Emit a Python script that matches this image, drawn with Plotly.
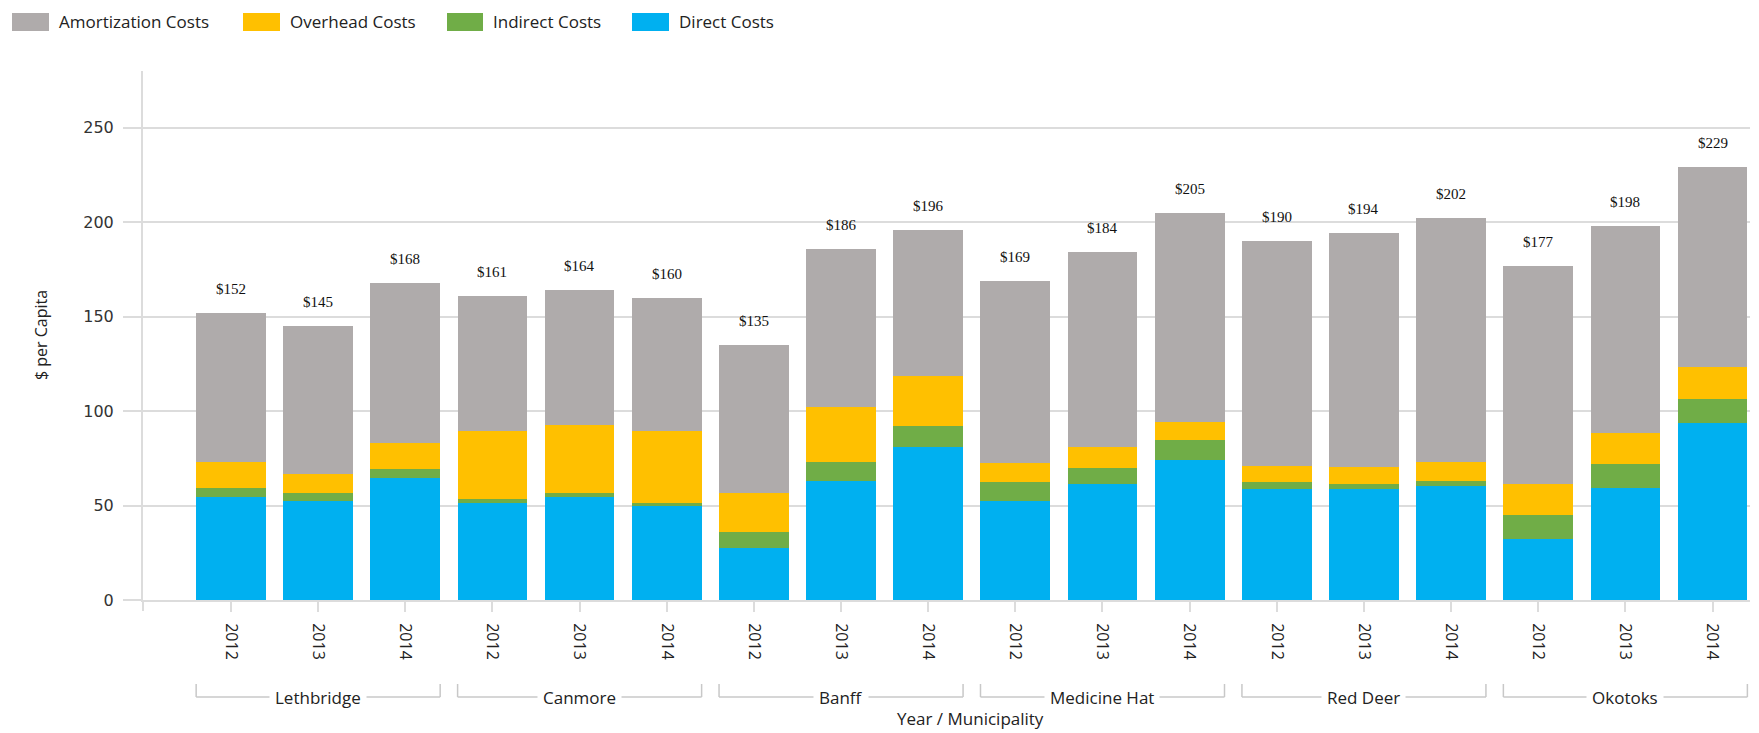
import plotly.graph_objects as go

# Per-capita cost breakdown by municipality and year
municipalities = ["Lethbridge", "Canmore", "Banff", "Medicine Hat", "Red Deer", "Okotoks"]
years = ["2012", "2013", "2014"]

direct_costs = [54.7, 52.6, 64.4, 51.5, 54.7, 49.7, 27.3, 63.1, 80.8,
                52.6, 61.4, 74.1, 58.6, 58.6, 60.5, 32.3, 59.4, 93.5]
indirect_costs = [4.7, 3.8, 4.7, 2.1, 1.7, 1.8, 8.9, 9.7, 11.4,
                  9.7, 8.6, 10.6, 3.7, 2.8, 2.6, 12.5, 12.6, 12.7]
overhead_costs = [13.8, 10.1, 13.8, 36.0, 36.2, 38.1, 20.2, 29.5, 26.5,
                  10.0, 10.8, 9.7, 8.8, 8.8, 9.9, 16.6, 16.5, 17.3]
amortization_costs = [78.8, 78.5, 85.1, 71.4, 71.4, 70.4, 78.6, 83.7, 77.3,
                      96.7, 103.2, 110.6, 118.9, 123.8, 129.0, 115.6, 109.5, 105.5]
totals = [152, 145, 168, 161, 164, 160, 135, 186, 196,
          169, 184, 205, 190, 194, 202, 177, 198, 229]

colors = {
    "Amortization Costs": "#AFABAB",
    "Overhead Costs": "#FFC000",
    "Indirect Costs": "#70AD47",
    "Direct Costs": "#00B0F0",
}

W, H = 1759, 733
M_L, M_R, M_T, M_B = 143, 9, 71, 133
PW, PH = W - M_L - M_R, H - M_T - M_B
X_RANGE = [-1.01, 17.43]
Y_RANGE = [0, 280]
GRID = "#DCDCDC"
TEXT_FONT = "Open Sans"


def px_to_paper_x(px):
    return (px - M_L) / PW


def px_to_paper_y(py):
    return (H - M_B - py) / PH


def data_to_paper_x(v):
    return (v - X_RANGE[0]) / (X_RANGE[1] - X_RANGE[0])


x = list(range(len(totals)))
year_labels = years * len(municipalities)

fig = go.Figure()
series = [
    ("Direct Costs", direct_costs),
    ("Indirect Costs", indirect_costs),
    ("Overhead Costs", overhead_costs),
    ("Amortization Costs", amortization_costs),
]
for name, vals in series:
    fig.add_trace(go.Bar(
        x=x, y=vals, name=name,
        marker=dict(color=colors[name], line=dict(width=0)),
        showlegend=False,
    ))

annotations = []
shapes = []

# Total value labels above each stack
for xi, t in zip(x, totals):
    annotations.append(dict(
        x=xi, y=t, xref="x", yref="y", text=f"${t}", showarrow=False,
        yanchor="middle", yshift=24,
        font=dict(family="Liberation Serif", size=15, color="#111111"),
    ))

# Municipality group brackets under the year labels
bracket_y = px_to_paper_y(697)
bracket_top = px_to_paper_y(684)
for g, name in enumerate(municipalities):
    x0 = data_to_paper_x(3 * g - 0.4)
    x1 = data_to_paper_x(3 * g + 2 + 0.4)
    line = dict(color="#C8C8C8", width=1.5)
    shapes.append(dict(type="line", xref="paper", yref="paper",
                       x0=x0, x1=x1, y0=bracket_y, y1=bracket_y, line=line))
    shapes.append(dict(type="line", xref="paper", yref="paper",
                       x0=x0, x1=x0, y0=bracket_y, y1=bracket_top, line=line))
    shapes.append(dict(type="line", xref="paper", yref="paper",
                       x0=x1, x1=x1, y0=bracket_y, y1=bracket_top, line=line))
    annotations.append(dict(
        x=3 * g + 1, y=bracket_y, xref="x", yref="paper", text=name,
        showarrow=False, yanchor="middle", bgcolor="white", borderpad=5,
        font=dict(family=TEXT_FONT, size=17, color="#222222"),
    ))

# Y axis line extension below the baseline
shapes.append(dict(type="line", xref="paper", yref="paper",
                   x0=0, x1=0, y0=0, y1=px_to_paper_y(611),
                   line=dict(color=GRID, width=2)))

# Axis titles
annotations.append(dict(
    x=px_to_paper_x(970), y=px_to_paper_y(718), xref="paper", yref="paper",
    text="Year / Municipality", showarrow=False, yanchor="middle",
    font=dict(family=TEXT_FONT, size=17, color="#222222"),
))
annotations.append(dict(
    x=px_to_paper_x(41), y=px_to_paper_y(335), xref="paper", yref="paper",
    text="$ per Capita", showarrow=False, textangle=-90,
    xanchor="center", yanchor="middle",
    font=dict(family=TEXT_FONT, size=16, color="#222222"),
))

# Legend drawn as swatches with labels along the top
legend_items = [
    ("Amortization Costs", 12, 49),
    ("Overhead Costs", 243, 280),
    ("Indirect Costs", 447, 483),
    ("Direct Costs", 632, 669),
]
for name, sx0, sx1 in legend_items:
    shapes.append(dict(type="rect", xref="paper", yref="paper",
                       x0=px_to_paper_x(sx0), x1=px_to_paper_x(sx1),
                       y0=px_to_paper_y(31), y1=px_to_paper_y(13),
                       fillcolor=colors[name], line=dict(width=0)))
    annotations.append(dict(
        x=px_to_paper_x(sx1 + 8), y=px_to_paper_y(21.5), xref="paper", yref="paper",
        text=name, showarrow=False, xanchor="left", yanchor="middle",
        font=dict(family=TEXT_FONT, size=17, color="#222222"),
    ))

fig.update_layout(
    width=W, height=H,
    margin=dict(l=M_L, r=M_R, t=M_T, b=M_B, pad=0),
    barmode="stack", bargap=0.2,
    plot_bgcolor="white", paper_bgcolor="white",
    showlegend=False,
    annotations=annotations, shapes=shapes,
    xaxis=dict(
        range=X_RANGE, tickmode="array", tickvals=x, ticktext=year_labels,
        tickangle=90, ticks="outside", ticklen=10, tickcolor=GRID, tickwidth=2,
        showline=True, linecolor=GRID, linewidth=2, showgrid=False, zeroline=False,
        ticklabelstandoff=8,
        tickfont=dict(family=TEXT_FONT, size=16, color="#222222"),
    ),
    yaxis=dict(
        range=Y_RANGE, tickvals=[0, 50, 100, 150, 200, 250],
        ticks="outside", ticklen=18, tickcolor=GRID, tickwidth=2,
        showline=True, linecolor=GRID, linewidth=2,
        showgrid=True, gridcolor=GRID, gridwidth=2, zeroline=False,
        ticklabelstandoff=6,
        tickfont=dict(family="DejaVu Sans", size=16, color="#333333"),
    ),
)

fig.write_html("out.html")
